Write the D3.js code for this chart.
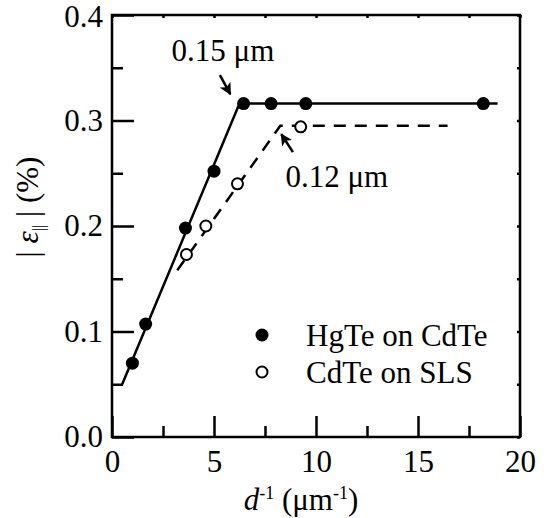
<!DOCTYPE html>
<html>
<head>
<meta charset="utf-8">
<script src="https://cdn.jsdelivr.net/npm/d3@7"></script>
<style>
  body { margin: 0; background: #fff; }
  #chart { width: 551px; height: 518px; }
  text { font-family: "Liberation Serif", "Times New Roman", serif; fill: #000; }
</style>
</head>
<body>
<div id="chart"></div>
<script>
// HgTe on CdTe (filled)
const hgX = [1.0, 1.65, 3.6, 5.0, 6.45, 7.8, 9.5, 18.2];
const hgY = [0.070, 0.107, 0.198, 0.252, 0.316, 0.316, 0.316, 0.316];
// CdTe on SLS (open)
const cdX = [3.65, 4.6, 6.15, 9.25];
const cdY = [0.173, 0.200, 0.240, 0.294];
// guide lines
const hgFitX = [0.5, 6.25, 18.9];
const hgFitY = [0.05, 0.316, 0.316];
const cdFitX = [3.2, 8.25, 16.45];
const cdFitY = [0.158, 0.295, 0.295];

const xMajor = [0, 5, 10, 15, 20];
const xMinor = [2.5, 7.5, 12.5, 17.5];
const yMajor = [0.0, 0.1, 0.2, 0.3, 0.4];
const yMinor = [0.05, 0.15, 0.25, 0.35];

const legendNames = ["HgTe on CdTe", "CdTe on SLS"];
const notes = [
    {label: "0.15 \u03bcm", tx: 2.92, ty: 0.356, x1: 5.29, y1: 0.343, x2: 5.80, y2: 0.325},
    {label: "0.12 \u03bcm", tx: 8.5, ty: 0.2365, x1: 8.87, y1: 0.270, x2: 8.30, y2: 0.287}
];

class StrainChart {

    constructor(parentElement){
        this.parentElement = parentElement
        this.hg = hgX.map((x, i) => ({x: x, y: hgY[i]}))
        this.cd = cdX.map((x, i) => ({x: x, y: cdY[i]}))
        this.hgFit = hgFitX.map((x, i) => ({x: x, y: hgFitY[i]}))
        this.cdFit = cdFitX.map((x, i) => ({x: x, y: cdFitY[i]}))
        this.fontSize = "31px"
        this.initVis()
    }

    initVis(){
        let vis = this

        vis.margin = {top: 15, right: 31, bottom: 81, left: 112};
        vis.width = 551 - vis.margin.left - vis.margin.right;
        vis.height = 518 - vis.margin.top - vis.margin.bottom;

        vis.root = d3.select("#" + vis.parentElement).append("svg")
            .attr("width", 551)
            .attr("height", 518);

        vis.root.append("defs").append("marker")
            .attr("id", "head")
            .attr("markerUnits", "userSpaceOnUse")
            .attr("viewBox", "0 0 10 10")
            .attr("refX", 9).attr("refY", 5)
            .attr("markerWidth", 12).attr("markerHeight", 12)
            .attr("orient", "auto")
            .append("path")
            .attr("d", "M0,0 L10,5 L0,10 L2.5,5 Z")
            .attr("fill", "#000");

        vis.svg = vis.root.append("g")
            .attr("transform", "translate(" + vis.margin.left + "," + vis.margin.top + ")");

        vis.xScale = d3.scaleLinear().domain([0, 20]).range([0, vis.width]);
        vis.yScale = d3.scaleLinear().domain([0, 0.4]).range([vis.height, 0]);

        vis.updateVis()
    }

    updateVis(){
        let vis = this
        let x = vis.xScale, y = vis.yScale

        // major / minor ticks, pointing inward
        vis.svg.append("g").attr("class", "axis x-axis")
            .attr("transform", `translate(0,${vis.height})`)
            .call(d3.axisBottom(x).tickValues(xMajor).tickSizeInner(-21).tickSizeOuter(0).tickPadding(13).tickFormat(d3.format("d")));
        vis.svg.append("g").attr("class", "axis")
            .attr("transform", `translate(0,${vis.height})`)
            .call(d3.axisBottom(x).tickValues(xMinor).tickSizeInner(-11).tickSizeOuter(0).tickFormat(""));
        vis.svg.append("g").attr("class", "axis y-axis")
            .call(d3.axisLeft(y).tickValues(yMajor).tickSizeInner(-22).tickSizeOuter(0).tickPadding(9).tickFormat(d3.format(".1f")));
        vis.svg.append("g").attr("class", "axis")
            .call(d3.axisLeft(y).tickValues(yMinor).tickSizeInner(-11).tickSizeOuter(0).tickFormat(""));
        vis.svg.append("g").attr("class", "axis")
            .call(d3.axisTop(x).tickValues(xMajor.concat(xMinor)).tickSizeInner(-3).tickSizeOuter(0).tickFormat(""));
        vis.svg.append("g").attr("class", "axis")
            .attr("transform", `translate(${vis.width},0)`)
            .call(d3.axisRight(y).tickValues(yMajor.concat(yMinor)).tickSizeInner(-3).tickSizeOuter(0).tickFormat(""));

        vis.svg.selectAll(".axis .domain").remove();
        vis.svg.selectAll(".axis line").attr("stroke", "#000").attr("stroke-width", 2.5);
        vis.svg.selectAll(".axis text").style("font-size", vis.fontSize).style("font-family", "Liberation Serif");
        // keep the top label inside the page
        vis.svg.select(".y-axis").selectAll("text").filter(d => d === 0.4).attr("dy", "0.36em");

        vis.svg.append("rect")
            .attr("width", vis.width).attr("height", vis.height)
            .attr("fill", "none").attr("stroke", "#000").attr("stroke-width", 2.5);

        // guide lines
        let line = d3.line().x(d => x(d.x)).y(d => y(d.y));
        vis.svg.append("path").datum(vis.hgFit)
            .attr("d", line).attr("fill", "none").attr("stroke", "#000").attr("stroke-width", 2.5);
        vis.svg.append("path").datum(vis.cdFit)
            .attr("d", line).attr("fill", "none").attr("stroke", "#000").attr("stroke-width", 2.5)
            .attr("stroke-dasharray", "12,9");

        // points
        vis.svg.selectAll(".hg").data(vis.hg).enter().append("circle")
            .attr("cx", d => x(d.x)).attr("cy", d => y(d.y)).attr("r", 6.5).attr("fill", "#000");
        vis.svg.selectAll(".cd").data(vis.cd).enter().append("circle")
            .attr("cx", d => x(d.x)).attr("cy", d => y(d.y)).attr("r", 5.5)
            .attr("fill", "#fff").attr("stroke", "#000").attr("stroke-width", 2);

        // annotations
        notes.forEach(n => {
            vis.svg.append("text").attr("x", x(n.tx)).attr("y", y(n.ty))
                .style("font-size", vis.fontSize).text(n.label);
            vis.svg.append("line")
                .attr("x1", x(n.x1)).attr("y1", y(n.y1)).attr("x2", x(n.x2)).attr("y2", y(n.y2))
                .attr("stroke", "#000").attr("stroke-width", 2.5).attr("marker-end", "url(#head)");
        });

        // legend
        let leg = vis.svg.append("g").attr("transform", "translate(150,320)");
        leg.append("circle").attr("cx", 0).attr("cy", 0).attr("r", 6.5).attr("fill", "#000");
        leg.append("circle").attr("cx", 0).attr("cy", 37).attr("r", 5.5)
            .attr("fill", "#fff").attr("stroke", "#000").attr("stroke-width", 2);
        leg.selectAll(".lt").data(legendNames).enter().append("text")
            .attr("x", 44).attr("y", (d, i) => 11 + i * 37)
            .style("font-size", vis.fontSize).text(d => d);

        // axis titles
        let xt = vis.root.append("text").attr("x", 301).attr("y", 510)
            .attr("text-anchor", "middle").style("font-size", vis.fontSize);
        xt.append("tspan").style("font-style", "italic").text("d");
        xt.append("tspan").attr("dy", -11).style("font-size", "18px").text("-1");
        xt.append("tspan").attr("dy", 11).text(" (\u03bcm");
        xt.append("tspan").attr("dy", -11).style("font-size", "18px").text("-1");
        xt.append("tspan").attr("dy", 11).text(")");

        let yt = vis.root.append("text")
            .attr("transform", "translate(38,207) rotate(-90)")
            .attr("text-anchor", "middle").style("font-size", vis.fontSize);
        yt.append("tspan").text("| ");
        yt.append("tspan").style("font-style", "italic").text("\u03b5");
        yt.append("tspan").attr("dy", 6).style("font-size", "16px").text("||");
        yt.append("tspan").attr("dy", -6).text(" | (%)");
    }
}

new StrainChart("chart");
</script>
</body>
</html>
